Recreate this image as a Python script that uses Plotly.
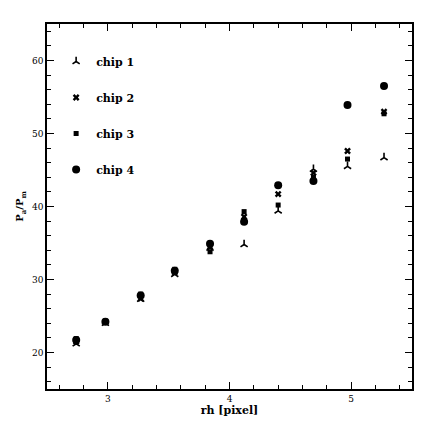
import plotly.graph_objects as go

rh = [2.74, 2.98, 3.27, 3.55, 3.84, 4.12, 4.40, 4.69, 4.97, 5.27]
chip1 = [21.2, 24.0, 27.3, 30.7, 34.3, 34.8, 39.4, 45.1, 45.5, 46.7]
chip2 = [21.5, 24.2, 27.4, 31.0, 34.5, 38.6, 41.7, 44.6, 47.6, 53.0]
chip3 = [21.9, 24.3, 28.0, 31.4, 33.8, 39.3, 40.2, 44.0, 46.5, 52.7]
chip4 = [21.7, 24.2, 27.8, 31.2, 34.9, 37.9, 42.9, 43.5, 53.9, 56.5]

names = ["chip 1", "chip 2", "chip 3", "chip 4"]
series = [chip1, chip2, chip3, chip4]
symbols = ["y-up", "x", "square", "circle"]
sizes = [6, 6, 5, 8]

fig = go.Figure()
for i, (n, s, sym, sz) in enumerate(zip(names, series, symbols, sizes)):
    fig.add_trace(go.Scatter(
        x=rh, y=s, mode="markers", name="<b>" + n + "</b>", legendgroup=n,
        marker=dict(symbol=sym, size=sz, color="black",
                    line=dict(color="black", width=1.6 if sym == "y-up" else 0)),
    ))

axis_common = dict(
    showline=True, linecolor="black", linewidth=1.5, mirror="allticks",
    ticks="inside", ticklen=7, tickwidth=1.2, tickcolor="black",
    showgrid=False, zeroline=False, automargin=False,
    tickfont=dict(family="DejaVu Serif", size=9, color="black"),
)

fig.update_layout(
    width=436, height=436,
    margin=dict(l=39, r=32, t=16, b=55),
    paper_bgcolor="white", plot_bgcolor="white",
    xaxis=dict(range=[2.5, 5.5], tickvals=[3, 4, 5], ticktext=["3", "4", "5"],
               minor=dict(dtick=0.2, tick0=2.6, ticks="inside", ticklen=4, tickcolor="black", tickwidth=1),
               title=dict(text="<b>rh [pixel]</b>", font=dict(family="DejaVu Serif", size=11, color="black"), standoff=4),
               **axis_common),
    yaxis=dict(range=[15, 65], tickvals=[20, 30, 40, 50, 60],
               minor=dict(dtick=2, tick0=16, ticks="inside", ticklen=4, tickcolor="black", tickwidth=1),
               title=dict(text="<b>P<sub>a</sub>/P<sub>m</sub></b>", font=dict(family="DejaVu Serif", size=10, color="black"), standoff=6),
               **axis_common),
    legend=dict(x=0.025, y=0.937, xanchor="left", yanchor="top",
                bgcolor="rgba(0,0,0,0)", tracegroupgap=17,
                font=dict(family="DejaVu Serif", size=11, color="black")),
    showlegend=True,
)

fig.write_html("out.html")
